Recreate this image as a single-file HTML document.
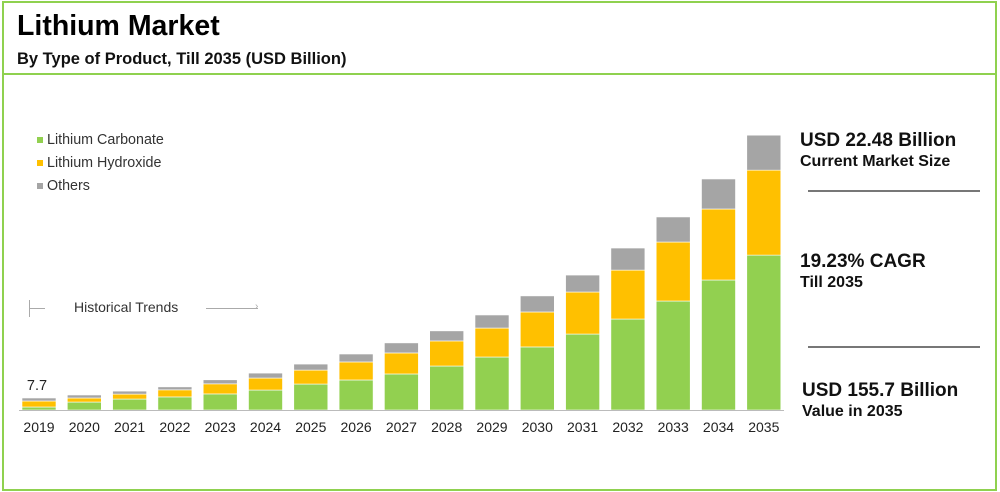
<!DOCTYPE html>
<html><head><meta charset="utf-8"><style>
body{margin:0;width:1000px;height:492px;background:#fff;font-family:"Liberation Sans",Arial,sans-serif;overflow:hidden;position:relative}
.abs{position:absolute;white-space:nowrap}
</style></head><body>
<div class="abs" style="left:2px;top:1px;width:991px;height:486px;border:2px solid #8fd14f"></div>
<div class="abs" style="left:4px;top:73px;width:991px;height:2px;background:#8fd14f"></div>
<div class="abs" style="left:17px;top:10px;font-size:28.5px;font-weight:bold;color:#000">Lithium Market</div>
<div class="abs" style="left:17px;top:50px;font-size:16.5px;font-weight:bold;color:#111">By Type of Product, Till 2035 (USD Billion)</div>

<div class="abs" style="left:37px;top:132px;font-size:14.3px;color:#333"><span style="display:inline-block;width:6px;height:6px;background:#92d050;margin-right:4px;vertical-align:middle"></span>Lithium Carbonate</div>
<div class="abs" style="left:37px;top:155px;font-size:14.3px;color:#333"><span style="display:inline-block;width:6px;height:6px;background:#ffc000;margin-right:4px;vertical-align:middle"></span>Lithium Hydroxide</div>
<div class="abs" style="left:37px;top:178px;font-size:14.3px;color:#333"><span style="display:inline-block;width:6px;height:6px;background:#a5a5a5;margin-right:4px;vertical-align:middle"></span>Others</div>

<div class="abs" style="left:74px;top:299px;font-size:14px;color:#333">Historical Trends</div>
<div class="abs" style="left:29px;top:300px;width:1px;height:17px;background:#aaa"></div>
<div class="abs" style="left:29px;top:308px;width:16px;height:1px;background:#aaa"></div>
<div class="abs" style="left:206px;top:308px;width:52px;height:1px;background:#aaa"></div>
<div class="abs" style="left:255px;top:301px;font-size:10px;color:#aaa">›</div>

<svg id="chart" class="abs" style="left:0;top:0" width="1000" height="492"></svg>

<div class="abs" style="left:800px;top:130px;font-size:19px;font-weight:bold;color:#111">USD 22.48 Billion</div>
<div class="abs" style="left:800px;top:153px;font-size:16px;font-weight:bold;color:#111">Current Market Size</div>
<div class="abs" style="left:808px;top:190px;width:172px;height:2px;background:#777"></div>
<div class="abs" style="left:800px;top:251px;font-size:19px;font-weight:bold;color:#111">19.23% CAGR</div>
<div class="abs" style="left:800px;top:274px;font-size:16px;font-weight:bold;color:#111">Till 2035</div>
<div class="abs" style="left:808px;top:346px;width:172px;height:2px;background:#777"></div>
<div class="abs" style="left:802px;top:380px;font-size:19px;font-weight:bold;color:#111">USD 155.7 Billion</div>
<div class="abs" style="left:802px;top:403px;font-size:16px;font-weight:bold;color:#111">Value in 2035</div>

<script>
const years=["2019","2020","2021","2022","2023","2024","2025","2026","2027","2028","2029","2030","2031","2032","2033","2034","2035"];
const carbonate=[1.7,4.5,6.2,7.4,9.1,11.3,14.7,17.0,20.4,24.9,30.0,35.7,43.0,51.5,61.7,73.6,87.7];
const hydroxide=[3.4,2.3,2.8,4.0,5.7,6.8,7.9,10.2,11.9,14.2,16.4,19.8,23.8,27.7,33.4,40.2,48.1];
const others=[1.7,1.7,1.7,1.7,2.3,2.8,3.4,4.5,5.7,5.7,7.4,9.1,9.6,12.5,14.2,17.0,19.8];
const firstLabel="7.7";
const NS="http://www.w3.org/2000/svg";
const svg=document.getElementById('chart');
const base=410,pxPer=275/155.7,x0=22,step=45.3,bw=34;
const x=i=>x0+i*step;
const y=v=>base-v*pxPer;
function mk(t,a){const e=document.createElementNS(NS,t);for(const k in a)e.setAttribute(k,a[k]);svg.appendChild(e);return e;}
const series=[[carbonate,"#92d050","carbonate"],[hydroxide,"#ffc000","hydroxide"],[others,"#a5a5a5","others"]];
years.forEach((yr,i)=>{
  let acc=0;
  series.forEach(([arr,col,nm])=>{
    const v=arr[i];
    const r=mk('rect',{x:x(i),y:y(acc+v),width:bw,height:v*pxPer,fill:col,stroke:"#fff","stroke-width":0.6});
    
    
    acc+=v;
  });
  const t=mk('text',{x:x(i)+bw/2,y:432,"text-anchor":"middle","font-size":"14","fill":"#222","font-family":"Liberation Sans, sans-serif"});
  t.textContent=yr;
  
  
});
const axis=mk('line',{x1:19,x2:784,y1:base+0.5,y2:base+0.5,stroke:"#bbb","stroke-width":1});


const tot=carbonate[0]+hydroxide[0]+others[0];
const lbl=mk('text',{x:x(0)+bw/2-2,y:y(tot)-8,"text-anchor":"middle","font-size":"14.5","fill":"#222","font-family":"Liberation Sans, sans-serif"});
lbl.textContent=firstLabel;


</script>
</body></html>
